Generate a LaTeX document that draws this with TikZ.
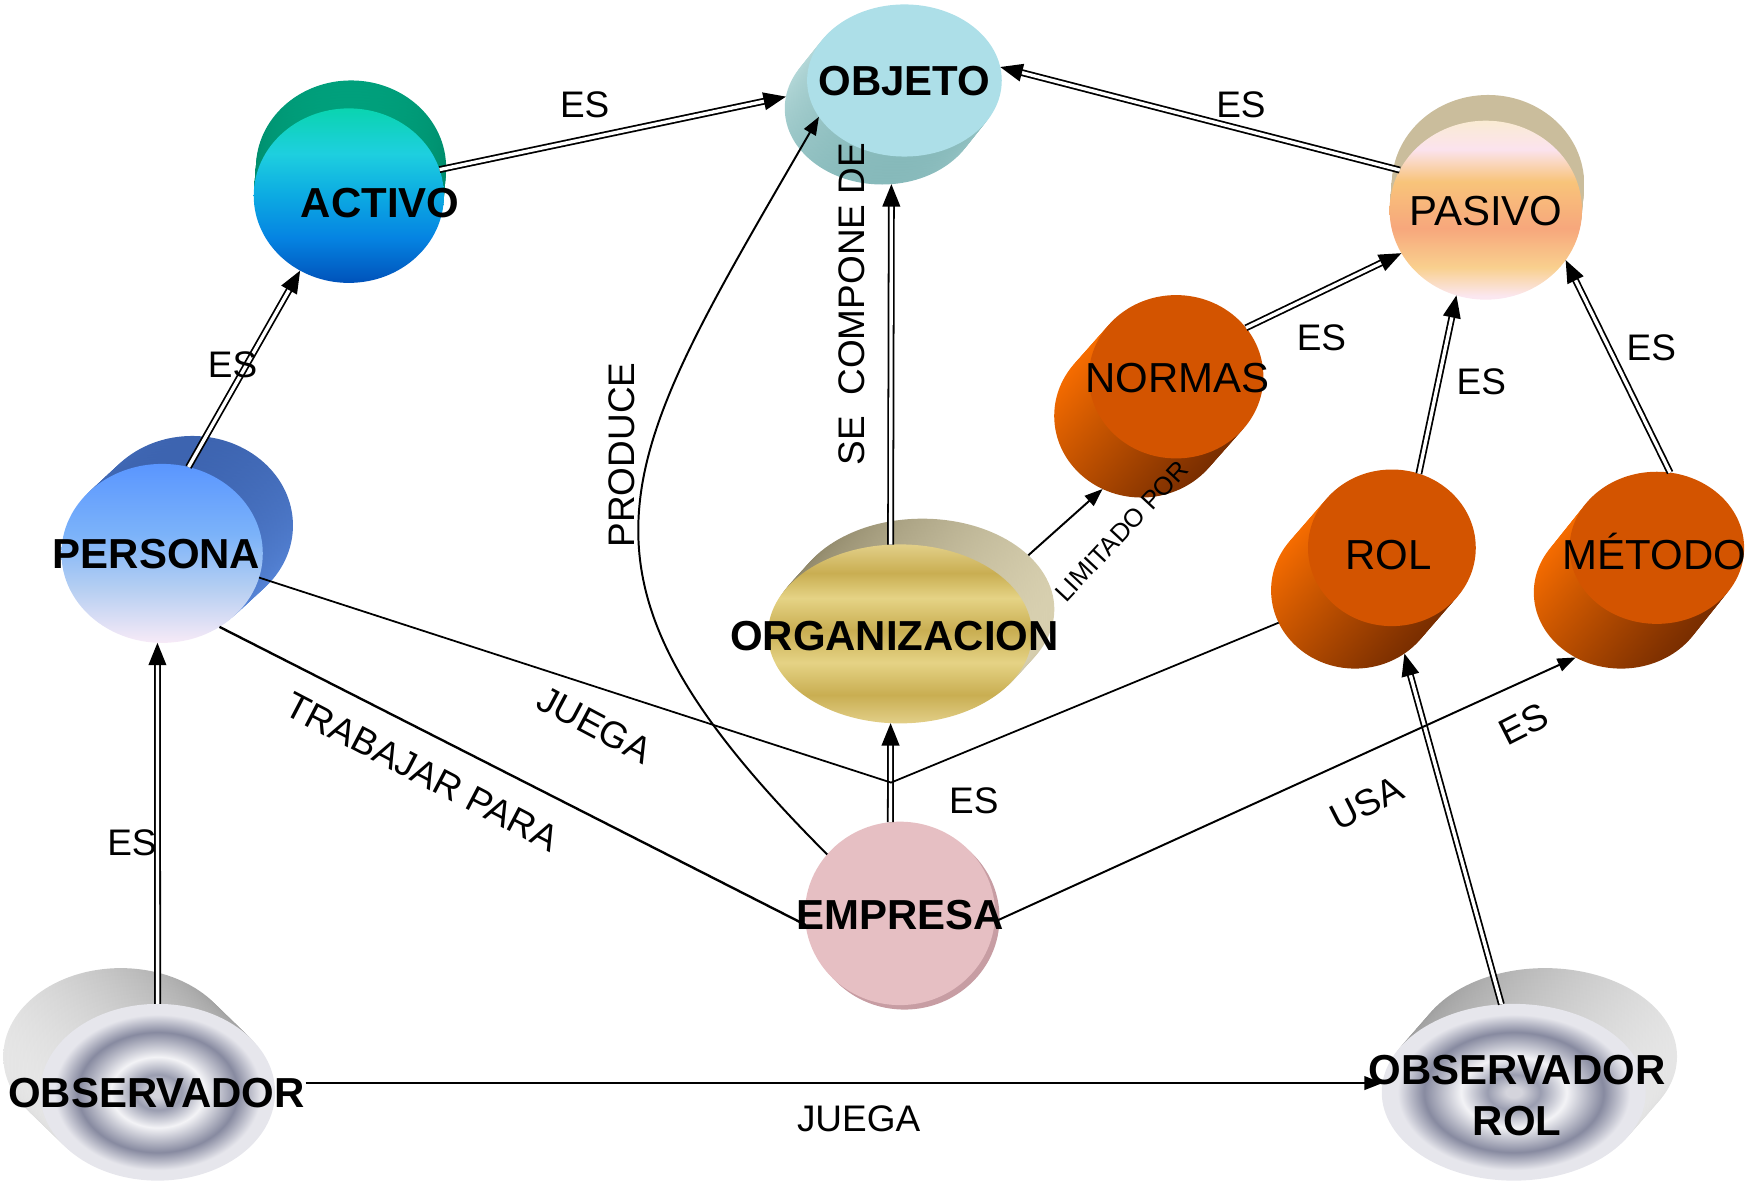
\documentclass[tikz,border=0pt]{standalone}
\usepackage{fontspec}
\setmainfont{Liberation Sans}
\usepackage{xcolor}
\usepackage{tikz}
\usetikzlibrary{shapes,arrows,positioning,calc,arrows.meta}

\definecolor{objetoF}{HTML}{ADDFE8}
\definecolor{objetoS1}{HTML}{86B9BA}
\definecolor{objetoS2}{HTML}{C6E4E4}
\definecolor{activoS1}{HTML}{00A07C}
\definecolor{activoS2}{HTML}{00765A}
\definecolor{personaS1}{HTML}{3D64B0}
\definecolor{personaS2}{HTML}{5B8BDF}
\definecolor{orgS1}{HTML}{8A8264}
\definecolor{orgS2}{HTML}{D8D0B0}
\definecolor{empresaF}{HTML}{E6BFC3}
\definecolor{empresaS}{HTML}{C79DA3}
\definecolor{naranja}{HTML}{D35400}
\definecolor{naranjaS1}{HTML}{F66C00}
\definecolor{naranjaS2}{HTML}{7A2E00}
\definecolor{pasivoS1}{HTML}{CABD9C}
\definecolor{pasivoS2}{HTML}{968B72}
\definecolor{grisS1}{HTML}{E6E6E6}
\definecolor{grisS2}{HTML}{9A9A9A}

\definecolor{acA}{HTML}{0052BA}
\definecolor{acB}{HTML}{0584E2}
\definecolor{acC}{HTML}{0CAAE2}
\definecolor{acD}{HTML}{1ECFDF}
\definecolor{acE}{HTML}{0AD4B0}
\definecolor{peA}{HTML}{F7EAF7}
\definecolor{peB}{HTML}{B6CFF2}
\definecolor{peC}{HTML}{7CB3F9}
\definecolor{peD}{HTML}{5A96FF}
\definecolor{orA}{HTML}{E2CF88}
\definecolor{orB}{HTML}{C9AE52}
\definecolor{orC}{HTML}{E5D385}
\definecolor{pasA}{HTML}{FBE7F0}
\definecolor{pasB}{HTML}{F9D08E}
\definecolor{pasC}{HTML}{F7A77C}
\definecolor{pasD}{HTML}{F8C47A}
\definecolor{pasE}{HTML}{FBE3EE}
\definecolor{pasF}{HTML}{FAEBD3}
\definecolor{rgA}{HTML}{D4D4DC}
\definecolor{rgB}{HTML}{9A9DB0}
\definecolor{rgC}{HTML}{F3F3F6}
\definecolor{rgD}{HTML}{878AA0}
\definecolor{rgE}{HTML}{E6E6EC}

\pgfdeclareverticalshading{activoshade}{100bp}{color(0bp)=(acA); color(25bp)=(acA); color(38bp)=(acB); color(50bp)=(acC); color(62bp)=(acD); color(75bp)=(acE); color(100bp)=(acE)}
\pgfdeclareverticalshading{personashade}{100bp}{color(0bp)=(peA); color(25bp)=(peA); color(40bp)=(peB); color(55bp)=(peC); color(75bp)=(peD); color(100bp)=(peD)}
\pgfdeclareverticalshading{orgshade}{100bp}{color(0bp)=(orA); color(25bp)=(orA); color(33bp)=(orB); color(42bp)=(orC); color(51bp)=(orB); color(60bp)=(orC); color(67bp)=(orB); color(75bp)=(orA); color(100bp)=(orA)}
\pgfdeclareverticalshading{pasivoshade}{100bp}{color(0bp)=(pasA); color(26bp)=(pasA); color(34bp)=(pasB); color(45bp)=(pasC); color(58bp)=(pasD); color(67bp)=(pasE); color(75bp)=(pasF); color(100bp)=(pasF)}
\pgfdeclareradialshading{rings}{\pgfpoint{0bp}{0bp}}{color(0bp)=(rgA); color(1.5bp)=(rgA); color(5bp)=(rgB); color(10bp)=(rgC); color(17bp)=(rgD); color(22bp)=(rgE); color(25bp)=(rgE); color(50bp)=(rgE)}

\tikzset{
  blob/.style={ellipse, inner sep=0pt, outer sep=0pt},
  cname/.style={font=\fontsize{10.67}{13.1}\selectfont\bfseries, inner sep=0pt, text height=7.64pt, text depth=0pt},
  cnamereg/.style={font=\fontsize{10.67}{13.1}\selectfont, inner sep=0pt, text height=7.64pt, text depth=0pt},
  rlabel/.style={font=\fontsize{9.4}{11}\selectfont, inner sep=0pt, text height=6.73pt, text depth=0pt},
  smalllabel/.style={font=\fontsize{6.5}{8}\selectfont, inner sep=0pt, text height=4.65pt, text depth=0pt},
  esarrow/.style={double, double distance=0.85pt, line width=0.45pt, -{Triangle[length=5.7pt, width=4.5pt]}},
  onearrow/.style={line width=0.5pt, -{Triangle[length=4.6pt, width=3.4pt]}},
  relline/.style={line width=0.45pt},
  objetoside/.style={top color=objetoS2, bottom color=objetoS1},
  activoside/.style={top color=activoS1, bottom color=activoS2},
  personaside/.style={top color=personaS1, bottom color=personaS2},
  orgside/.style={left color=orgS1, right color=orgS2},
  naranjaside/.style={top color=naranjaS1, bottom color=naranjaS2, shading angle=45},
  pasivoside/.style={left color=pasivoS1, middle color=pasivoS2, right color=pasivoS1},
}

\begin{document}
\begin{tikzpicture}[x=0.01cm, y=-0.01cm]
    \useasboundingbox (0,0) rectangle (1568,1061);

    % OBJETO
    \node[blob, minimum width=1.74cm, minimum height=1.36cm, objetoside] (objetoB) at (789,97) {};
    \foreach \t in {0.1,0.2,...,0.9}
        \path[objetoside] ($(789,97)!\t!(809,72)$) ellipse [x radius=87, y radius=68];
    \node[blob, minimum width=1.74cm, minimum height=1.36cm, fill=objetoF] (objeto) at (809,72) {};

    % ACTIVO
    \node[blob, minimum width=1.70cm, minimum height=1.56cm, activoside] (activoB) at (314,150) {};
    \foreach \t in {0.1,0.2,...,0.9}
        \path[activoside] ($(314,150)!\t!(312,175)$) ellipse [x radius=85, y radius=78];
    \node[blob, minimum width=1.70cm, minimum height=1.56cm, shade, shading=activoshade] (activo) at (312,175) {};

    % PERSONA
    \node[blob, minimum width=1.80cm, minimum height=1.60cm, personaside] (personaB) at (172,470) {};
    \foreach \t in {0.1,0.2,...,0.9}
        \path[personaside] ($(172,470)!\t!(145,495)$) ellipse [x radius=90, y radius=80];
    \node[blob, minimum width=1.80cm, minimum height=1.60cm, shade, shading=personashade] (persona) at (145,495) {};

    % ORGANIZACION
    \node[blob, minimum width=2.36cm, minimum height=1.62cm, orgside] (organizacionB) at (825,545) {};
    \foreach \t in {0.1,0.2,...,0.9}
        \path[orgside] ($(825,545)!\t!(805,567)$) ellipse [x radius=118, y radius=81];
    \node[blob, minimum width=2.36cm, minimum height=1.60cm, shade, shading=orgshade] (organizacion) at (805,567) {};

    % EMPRESA
    \node[blob, minimum width=1.70cm, minimum height=1.64cm, fill=empresaS] (empresaB) at (809,821) {};
    \node[blob, minimum width=1.70cm, minimum height=1.64cm, fill=empresaF] (empresa) at (805,817) {};

    % NORMAS
    \node[blob, minimum width=1.56cm, minimum height=1.46cm, naranjaside] (normasB) at (1021,372) {};
    \foreach \t in {0.1,0.2,...,0.9}
        \path[naranjaside] ($(1021,372)!\t!(1052,337)$) ellipse [x radius=78, y radius=73];
    \node[blob, minimum width=1.56cm, minimum height=1.46cm, fill=naranja] (normas) at (1052,337) {};

    % ROL
    \node[blob, minimum width=1.50cm, minimum height=1.40cm, naranjaside] (rolB) at (1212,528) {};
    \foreach \t in {0.1,0.2,...,0.9}
        \path[naranjaside] ($(1212,528)!\t!(1245,490)$) ellipse [x radius=75, y radius=70];
    \node[blob, minimum width=1.50cm, minimum height=1.40cm, fill=naranja] (rol) at (1245,490) {};

    % METODO
    \node[blob, minimum width=1.56cm, minimum height=1.36cm, naranjaside] (metodoB) at (1450,530) {};
    \foreach \t in {0.1,0.2,...,0.9}
        \path[naranjaside] ($(1450,530)!\t!(1482,490)$) ellipse [x radius=78, y radius=68];
    \node[blob, minimum width=1.56cm, minimum height=1.36cm, fill=naranja] (metodo) at (1482,490) {};

    % PASIVO
    \node[blob, minimum width=1.72cm, minimum height=1.60cm, pasivoside] (pasivoB) at (1331,165) {};
    \foreach \t in {0.1,0.2,...,0.9}
        \path[pasivoside] ($(1331,165)!\t!(1329,188)$) ellipse [x radius=86, y radius=80];
    \node[blob, minimum width=1.72cm, minimum height=1.60cm, shade, shading=pasivoshade] (pasivo) at (1329,188) {};

    % OBSERVADOR
    \node[blob, minimum width=2.10cm, minimum height=1.58cm, left color=grisS1, right color=grisS2] (observadorB) at (108,945) {};
    \foreach \t in {0.1,0.2,...,0.9}
        \path[left color=grisS1, right color=grisS2] ($(108,945)!\t!(141,977)$) ellipse [x radius=105, y radius=79];
    \node[blob, minimum width=2.10cm, minimum height=1.58cm, shade, shading=rings] (observador) at (141,977) {};

    % OBSERVADOR ROL
    \node[blob, minimum width=2.36cm, minimum height=1.58cm, left color=grisS2, right color=grisS1] (obsrolB) at (1382,945) {};
    \foreach \t in {0.1,0.2,...,0.9}
        \path[left color=grisS2, right color=grisS1] ($(1382,945)!\t!(1354,977)$) ellipse [x radius=118, y radius=79];
    \node[blob, minimum width=2.36cm, minimum height=1.58cm, shade, shading=rings] (obsrol) at (1354,977) {};

    % texts of the concepts
    \node[cname] (objetoT) at (809,72) {OBJETO};
    \node[cname] (activoT) at (340,181) {ACTIVO};
    \node[cname] (personaT) at (140,495) {PERSONA};
    \node[cname] (organizacionT) at (800,568) {ORGANIZACION};
    \node[cname] (empresaT) at (805,818) {EMPRESA};
    \node[cnamereg] (normasT) at (1053,338) {NORMAS};
    \node[cnamereg] (rolT) at (1242,496) {ROL};
    \node[cnamereg] (metodoT) at (1480,496) {MÉTODO};
    \node[cnamereg] (pasivoT) at (1329,188) {PASIVO};
    \node[cname] (observadorT) at (140,977) {OBSERVADOR};
    \node[font=\fontsize{10.67}{13.1}\selectfont\bfseries, align=center, inner sep=0pt] (obsrolT) at (1357,980) {OBSERVADOR\\ROL};

    % ES relations
    \draw[esarrow] (activo.16) -- (objetoB.173);
    \draw[esarrow] (persona.73) -- (activo.237);
    \draw[esarrow] (observador.90) -- (persona.267);
    \draw[esarrow] (pasivo.155) -- (objeto.8);
    \draw[esarrow] (normas.35) -- (pasivo.207);
    \draw[esarrow] (rol.70) -- (pasivo.251);
    \draw[esarrow] (metodo.80) -- (pasivo.328);
    \draw[esarrow] (organizacion.96) -- (objetoB.277);
    \draw[esarrow] (empresa.96) -- (organizacion.264);
    \draw[esarrow] (obsrol.98) -- (rolB.308);

    % other relations
    \draw[onearrow] (organizacionB.27) -- (normasB.242);
    \draw[onearrow] (empresa.141) to[out=135, in=240, looseness=1.4] (objeto.203);
    \coordinate (jn) at (797,700);
    \draw[relline] (persona.346) -- (jn) -- (rolB.203);
    \draw[line width=0.6pt] (persona.308) -- (empresa.187);
    \draw[onearrow] (empresa.355) -- (metodoB.235);
    \draw[line width=0.7pt, -{Triangle[length=4.6pt, width=3.4pt]}] (observadorT.east |- obsrol.176) -- (obsrol.176);

    % labels
    \node[rlabel] (esActivo) at (523,93) {ES};
    \node[rlabel] (esPersona) at (208,326) {ES};
    \node[rlabel] (esObservador) at (118,753) {ES};
    \node[rlabel] (esPasivo) at (1110,93) {ES};
    \node[rlabel] (esNormas) at (1182,302) {ES};
    \node[rlabel] (esRol) at (1325,341) {ES};
    \node[rlabel] (esMetodo) at (1477,311) {ES};
    \node[rlabel] (esEmpresa) at (871,716) {ES};
    \node[rlabel, rotate=90] (compone) at (761,272) {SE\ \ COMPONE DE};
    \node[rlabel, rotate=90] (produce) at (556,407) {PRODUCE};
    \node[smalllabel, rotate=47] (limitado) at (1003,475) {LIMITADO POR};
    \node[rlabel, rotate=-28] (juegaPersona) at (532,648) {JUEGA};
    \node[rlabel, rotate=-27.5] (trabajar) at (378,690) {TRABAJAR PARA};
    \node[rlabel, rotate=27] (usa) at (1222,718) {USA};
    \node[rlabel, rotate=27] (esUsa) at (1363,647) {ES};
    \node[rlabel] (juegaObservador) at (768,1000) {JUEGA};
\end{tikzpicture}
\end{document}
